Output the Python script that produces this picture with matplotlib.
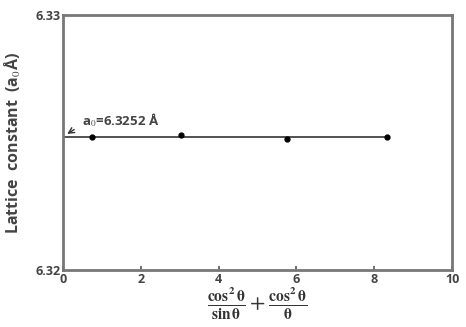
import numpy as np
import matplotlib.pyplot as plt

# data
x_pts = [0.75, 3.03, 5.75, 8.34]
a_pts = [6.32520, 6.32531, 6.32513, 6.32520]
a0 = 6.3252
fit_x = [0, 8.34]
xticks = [0, 2, 4, 6, 8, 10]
yticks = [6.32, 6.33]

plt.rcParams['mathtext.fontset'] = 'stix'
plt.rcParams['font.family'] = ['Open Sans', 'DejaVu Sans']

fig = plt.figure(figsize=(4.66, 3.27), dpi=100)
ax = fig.add_axes([0.135, 0.174, 0.835, 0.78])

ax.plot(fit_x, [a0, a0], color='#333333', lw=1.2)
ax.plot(x_pts, a_pts, 'o', color='black', ms=3.5)

ax.set_xlim(0, 10)
ax.set_ylim(6.32, 6.33)
ax.set_xticks(xticks)
ax.set_xticklabels([str(t) for t in xticks], fontweight='bold')
ax.set_yticks(yticks)
ax.set_yticklabels(['%.2f' % t for t in yticks], fontweight='bold')
ax.tick_params(axis='both', direction='in', length=3, width=1.2, color='#555555',
               labelsize=9, labelcolor='#444444', pad=2)
ax.tick_params(axis='y', length=0)
for s in ax.spines.values():
    s.set_color('#777777')
    s.set_linewidth(2)

ax.annotate('', xy=(0.05, 6.32528), xytext=(0.35, 6.32557),
            arrowprops=dict(arrowstyle='->', color='#333333', lw=1))
ax.text(0.5, 6.32555, 'a$_0$=6.3252 Å', fontsize=9.5, fontweight='bold',
        color='#444444', va='bottom')

ax.set_ylabel('Lattice  constant  (a$_0$Å)', fontsize=11.5, fontweight='bold',
              color='#444444', labelpad=9)
ax.set_xlabel(r'$\mathbf{\frac{cos^2\,\theta}{sin\,\theta}}+\mathbf{\frac{cos^2\,\theta}{\theta}}$',
              fontsize=16, color='#333333', labelpad=0)

fig.savefig('out.png', dpi=100)
